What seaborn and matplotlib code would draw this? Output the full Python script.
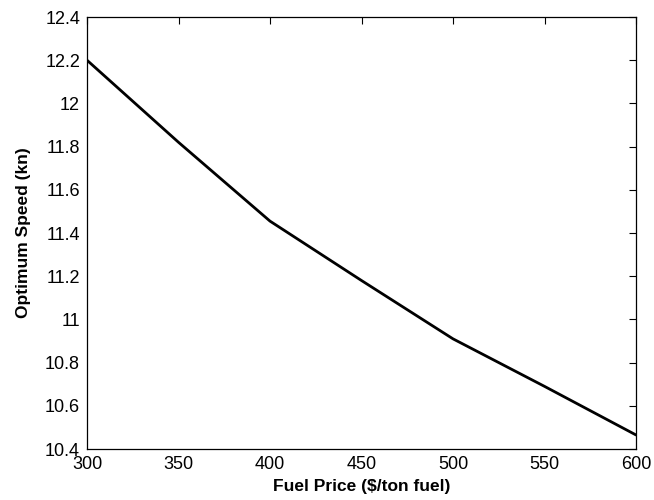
import matplotlib
matplotlib.use("Agg")
import matplotlib.pyplot as plt
import seaborn as sns
import pandas as pd

fuel_price = [300, 350, 400, 450, 500, 550, 600]
optimum_speed = [12.2, 11.82, 11.455, 11.18, 10.91, 10.69, 10.465]
x_ticks = [300, 350, 400, 450, 500, 550, 600]
y_ticks = [10.4, 10.6, 10.8, 11, 11.2, 11.4, 11.6, 11.8, 12, 12.2, 12.4]
y_tick_labels = ["10.4", "10.6", "10.8", "11", "11.2", "11.4", "11.6", "11.8", "12", "12.2", "12.4"]

sns.set_style("white")
plt.rcParams['font.family'] = ['Liberation Sans', 'DejaVu Sans']
plt.rcParams['text.color'] = 'black'
plt.rcParams['axes.labelcolor'] = 'black'

df = pd.DataFrame({"Fuel Price": fuel_price, "Optimum Speed": optimum_speed})

fig = plt.figure(figsize=(6.54, 5.00), dpi=100)
ax = fig.add_axes([87/654, 1 - 449/500, (636-87)/654, (449-17)/500])
sns.lineplot(data=df, x="Fuel Price", y="Optimum Speed", ax=ax, color="black", linewidth=2.0)

ax.set_xlim(300, 600)
ax.set_ylim(10.4, 12.4)
ax.set_xticks(x_ticks)
ax.set_xticklabels([str(t) for t in x_ticks], fontsize=13)
ax.set_yticks(y_ticks)
ax.set_yticklabels(y_tick_labels, fontsize=13)
ax.tick_params(direction="in", length=5, width=0.8, top=True, right=True, pad=5, colors="black")
for s in ax.spines.values():
    s.set_color("black")
    s.set_linewidth(0.9)
ax.set_xlabel("Fuel Price ($/ton fuel)", fontsize=12.5, fontweight="bold", labelpad=4, color="black")
ax.set_ylabel("Optimum Speed (kn)", fontsize=12.5, fontweight="bold", labelpad=10, color="black")

fig.savefig("out.png", dpi=100)
